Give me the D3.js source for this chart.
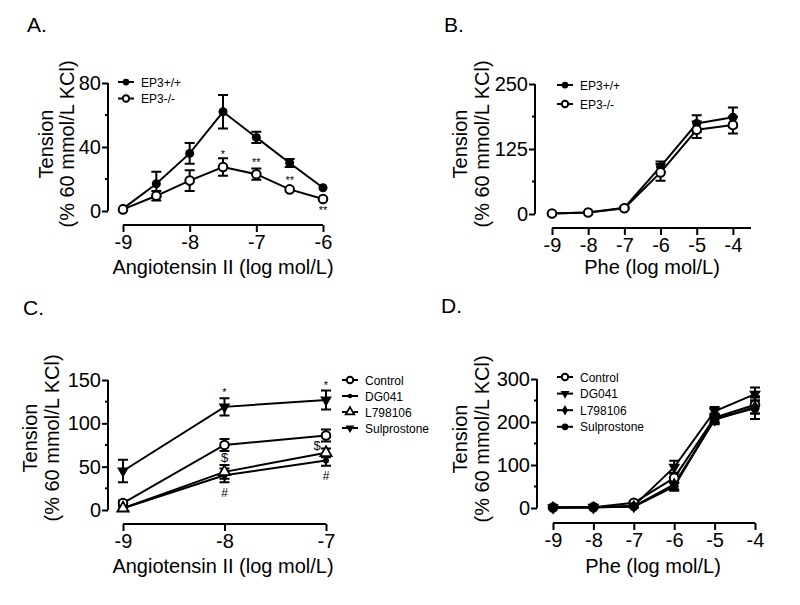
<!DOCTYPE html>
<html><head><meta charset="utf-8">
<script src="https://cdn.jsdelivr.net/npm/d3@7"></script>
<style>body{margin:0;background:#fff}svg{display:block;font-family:"Liberation Sans",Arial,sans-serif}</style>
</head><body><svg id="c" width="800" height="605"></svg>
<script>
// ---------- data ----------
const aX = [-9, -8.5, -8, -7.5, -7, -6.5, -6];
const aWT = [1.5, 17, 36, 62, 46, 30, 14.5];
const aWTerr = [1, 7.5, 6.5, 10.5, 3.5, 2.5, 1];
const aKO = [1, 9.5, 19, 27.5, 23, 13.5, 7.5];
const aKOerr = [1, 3, 6.5, 5.5, 3.5, 1, 1];
const aTicksY = [0, 40, 80];
const aTicksX = [-9, -8, -7, -6];

const bX = [-9, -8, -7, -6, -5, -4];
const bWT = [1, 3, 12, 91, 174, 186];
const bWTerr = [1, 1, 2, 10, 16, 19];
const bKO = [1, 3, 11, 80, 162, 171];
const bKOerr = [1, 1, 2, 16, 16, 16];
const bTicksY = [0, 125, 250];
const bTicksX = [-9, -8, -7, -6, -5, -4];

const cX = [-9, -8, -7];
const cControl = [8, 75, 86];
const cControlErr = [3, 7, 7];
const cDG041 = [2, 40, 57];
const cDG041Err = [2, 8, 6];
const cL798106 = [2, 44, 66];
const cL798106Err = [2, 8, 5];
const cSulpro = [45, 119, 127];
const cSulproErr = [13, 10, 11];
const cTicksY = [0, 50, 100, 150];
const cTicksX = [-9, -8, -7];

const dX = [-9, -8, -7, -6, -5, -4];
const dControl = [1, 2, 12, 70, 210, 240];
const dControlErr = [1, 1, 3, 12, 10, 20];
const dDG041 = [1, 2, 5, 95, 225, 265];
const dDG041Err = [1, 1, 2, 15, 10, 15];
const dL798106 = [1, 1, 4, 55, 205, 235];
const dL798106Err = [1, 1, 2, 12, 10, 15];
const dSulpro = [1, 2, 3, 50, 207, 232];
const dSulproErr = [1, 1, 2, 10, 10, 25];
const dTicksY = [0, 100, 200, 300];
const dTicksX = [-9, -8, -7, -6, -5, -4];

const legendA = ["EP3+/+", "EP3-/-"];
const legendC = ["Control", "DG041", "L798106", "Sulprostone"];

const svg = d3.select("#c");

function marker(g, type, x, y, k) {
  k = k || 1;
  if (type === "fc") g.append("circle").attr("cx", x).attr("cy", y).attr("r", 4.5 * k).attr("fill", "#000");
  else if (type === "sfc") g.append("circle").attr("cx", x).attr("cy", y).attr("r", 3 * k).attr("fill", "#000");
  else if (type === "oc") g.append("circle").attr("cx", x).attr("cy", y).attr("r", 4.3 * k).attr("fill", "#fff").attr("stroke", "#000").attr("stroke-width", 2);
  else if (type === "ot") g.append("path").attr("d", d3.symbol(d3.symbolTriangle, 55 * k * k)()).attr("transform", `translate(${x},${y})`).attr("fill", "#fff").attr("stroke", "#000").attr("stroke-width", 1.8);
  else if (type === "dt") g.append("path").attr("d", d3.symbol(d3.symbolTriangle, 60 * k * k)()).attr("transform", `translate(${x},${y}) rotate(180)`).attr("fill", "#000");
  else if (type === "dia") g.append("path").attr("d", d3.symbol(d3.symbolDiamond, 55 * k * k)()).attr("transform", `translate(${x},${y})`).attr("fill", "#000");
}

function panel(o) {
  const g = svg.append("g");
  const x = d3.scaleLinear().domain(o.xd).range(o.xr);
  const y = d3.scaleLinear().domain(o.yd).range(o.yr);
  // y axis
  const ya = g.append("g").attr("transform", `translate(${o.yax},0)`)
    .call(d3.axisLeft(y).tickValues(o.ticksY).tickSize(6).tickPadding(1).tickFormat(d3.format("d")));
  ya.select(".domain").attr("d", `M0,${o.yr[0]}V${o.yr[1]}`).attr("stroke-width", 2);
  ya.selectAll(".tick line").attr("stroke-width", 2);
  ya.selectAll("text").attr("font-size", 20).attr("fill", "#000");
  // minor ticks
  const step = o.ticksY[1] - o.ticksY[0];
  const minors = o.ticksY.slice(0, -1).map(v => v + step / 2);
  g.selectAll(null).data(minors).enter().append("line")
    .attr("x1", o.yax - 3).attr("x2", o.yax).attr("y1", d => y(d)).attr("y2", d => y(d))
    .attr("stroke", "#000").attr("stroke-width", 2);
  // x axis
  const xa = g.append("g").attr("transform", `translate(0,${o.xay})`)
    .call(d3.axisBottom(x).tickValues(o.ticksX).tickSize(7).tickPadding(3).tickFormat(d3.format("d")));
  xa.select(".domain").attr("d", `M${o.xr[0]},0H${o.xr[1]}`).attr("stroke-width", 2);
  xa.selectAll(".tick line").attr("stroke-width", 2);
  xa.selectAll("text").attr("font-size", 20).attr("fill", "#000").text(d => d3.format("d")(d).replace("−", "-"));
  // labels
  g.append("text").attr("x", o.xlx).attr("y", o.xly).attr("text-anchor", "middle").attr("font-size", 20).attr("fill", "#000").text(o.xlabel);
  g.append("text").attr("transform", `translate(${o.yl1},${o.ylc}) rotate(-90)`).attr("text-anchor", "middle").attr("font-size", 20).attr("fill", "#000").text("Tension");
  g.append("text").attr("transform", `translate(${o.yl2},${o.ylc}) rotate(-90)`).attr("text-anchor", "middle").attr("font-size", 20).attr("fill", "#000").text("(% 60 mmol/L KCl)");
  g.append("text").attr("x", o.tx).attr("y", o.ty).attr("font-size", 21).attr("fill", "#000").text(o.title);
  // series
  const line = d3.line().x((d, i) => x(o.xs[i])).y(d => y(d));
  o.series.forEach(s => {
    g.append("path").attr("d", line(s.v)).attr("fill", "none").attr("stroke", "#000").attr("stroke-width", 2);
  });
  o.series.forEach(s => {
    s.v.forEach((v, i) => {
      const e = s.e[i];
      if (e < 2) return;
      const cx = x(o.xs[i]);
      g.append("path").attr("d", `M${cx},${y(v - e)}V${y(v + e)}M${cx - 5},${y(v - e)}H${cx + 5}M${cx - 5},${y(v + e)}H${cx + 5}`)
        .attr("stroke", "#000").attr("stroke-width", 2).attr("fill", "none");
    });
  });
  o.series.forEach(s => {
    s.v.forEach((v, i) => marker(g, s.m, x(o.xs[i]), y(v)));
  });
  // legend
  o.series.forEach((s, i) => {
    const ly = o.ly + i * o.lstep;
    g.append("line").attr("x1", o.lx - 8).attr("x2", o.lx + 8).attr("y1", ly).attr("y2", ly).attr("stroke", "#000").attr("stroke-width", 2);
    marker(g, s.m, o.lx, ly, 0.75);
    g.append("text").attr("x", o.lx + 15).attr("y", ly + 4.5).attr("font-size", 12).attr("fill", "#000").text(s.name);
  });
  // annotations
  (o.ann || []).forEach(a => {
    g.append("text").attr("x", x(a.x) + (a.dx || 0)).attr("y", a.y).attr("text-anchor", "middle").attr("font-size", a.fs || 11).attr("fill", "#000").text(a.t);
  });
}

panel({
  title: "A.", tx: 27, ty: 32,
  xd: [-9, -6], xr: [123, 323], yd: [0, 80], yr: [211, 83], yax: 108, xay: 225,
  ticksY: aTicksY, ticksX: aTicksX, xs: aX,
  xlabel: "Angiotensin II (log mol/L)", xlx: 223, xly: 274, yl1: 53, yl2: 74, ylc: 144,
  series: [{ name: legendA[0], v: aWT, e: aWTerr, m: "fc" }, { name: legendA[1], v: aKO, e: aKOerr, m: "oc" }],
  lx: 126, ly: 82, lstep: 16.5,
  ann: [{ x: -7.5, y: 158, t: "*" }, { x: -7, y: 166, t: "**" }, { x: -6.5, y: 184, t: "**" }, { x: -6, y: 214, t: "**" }]
});

panel({
  title: "B.", tx: 444, ty: 32,
  xd: [-9, -3.5], xr: [552, 751], yd: [0, 250], yr: [214, 84], yax: 535, xay: 228,
  ticksY: bTicksY, ticksX: bTicksX, xs: bX,
  xlabel: "Phe (log mol/L)", xlx: 652, xly: 274, yl1: 467, yl2: 489, ylc: 144,
  series: [{ name: legendA[0], v: bWT, e: bWTerr, m: "fc" }, { name: legendA[1], v: bKO, e: bKOerr, m: "oc" }],
  lx: 565, ly: 85, lstep: 19
});

panel({
  title: "C.", tx: 23, ty: 315,
  xd: [-9, -7], xr: [123, 326], yd: [0, 150], yr: [510, 380], yax: 108, xay: 524,
  ticksY: cTicksY, ticksX: cTicksX, xs: cX,
  xlabel: "Angiotensin II (log mol/L)", xlx: 223, xly: 573, yl1: 37, yl2: 59, ylc: 438,
  series: [{ name: legendC[0], v: cControl, e: cControlErr, m: "oc" }, { name: legendC[1], v: cDG041, e: cDG041Err, m: "sfc" },
           { name: legendC[2], v: cL798106, e: cL798106Err, m: "ot" }, { name: legendC[3], v: cSulpro, e: cSulproErr, m: "dt" }],
  lx: 350, ly: 380, lstep: 16,
  ann: [{ x: -8, y: 396, t: "*" }, { x: -7, y: 389, t: "*" }, { x: -8, y: 462, t: "$", fs: 13 }, { x: -7, dx: -9, y: 450, t: "$", fs: 13 },
        { x: -8, y: 497, t: "#", fs: 12 }, { x: -7, y: 480, t: "#", fs: 12 }]
});

panel({
  title: "D.", tx: 441, ty: 313,
  xd: [-9, -4], xr: [553, 755], yd: [0, 300], yr: [508, 379], yax: 537, xay: 523,
  ticksY: dTicksY, ticksX: dTicksX, xs: dX,
  xlabel: "Phe (log mol/L)", xlx: 653, xly: 573, yl1: 467, yl2: 489, ylc: 439,
  series: [{ name: legendC[0], v: dControl, e: dControlErr, m: "oc" }, { name: legendC[1], v: dDG041, e: dDG041Err, m: "dt" },
           { name: legendC[2], v: dL798106, e: dL798106Err, m: "dia" }, { name: legendC[3], v: dSulpro, e: dSulproErr, m: "fc" }],
  lx: 565, ly: 377, lstep: 16.6
});
</script></body></html>
